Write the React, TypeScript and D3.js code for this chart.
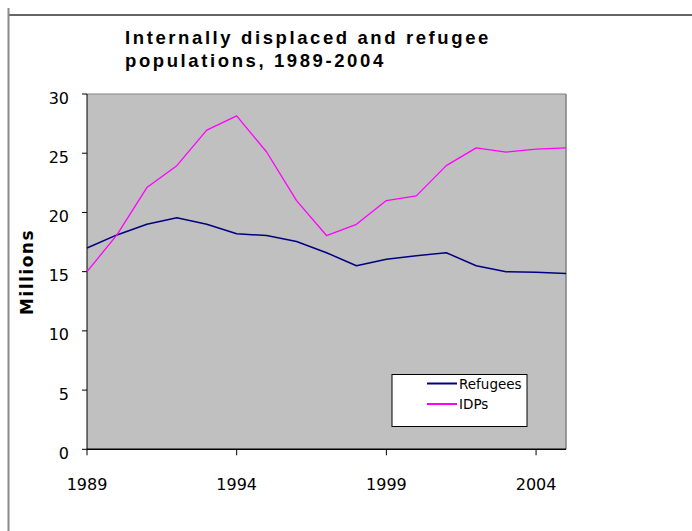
import * as d3 from "d3";

const WIDTH = 692;
const HEIGHT = 531;
const PLOT = { left: 87, right: 566, top: 94, bottom: 449.3 };

const years = [
  1989, 1990, 1991, 1992, 1993, 1994, 1995, 1996, 1997, 1998, 1999, 2000, 2001,
  2002, 2003, 2004, 2005,
];
const refugees = [
  17.0, 18.1, 19.0, 19.55, 19.0, 18.2, 18.05, 17.55, 16.6, 15.5, 16.05, 16.35,
  16.6, 15.5, 15.0, 14.95, 14.85,
];
const idps = [
  15.0, 18.1, 22.1, 23.95, 26.95, 28.15, 25.1, 21.0, 18.05, 19.0, 21.0, 21.4,
  23.95, 25.45, 25.1, 25.35, 25.45,
];
const yTicks = [0, 5, 10, 15, 20, 25, 30];
const xTickYears = [1989, 1994, 1999, 2004];

const series = [
  { name: "Refugees", values: refugees, color: "#000080", width: 1.5 },
  { name: "IDPs", values: idps, color: "#ff00ff", width: 1.3 },
];

export default function App() {
  const xScale = d3
    .scalePoint<number>()
    .domain(years)
    .range([PLOT.left, PLOT.right]);
  const yScale = d3
    .scaleLinear()
    .domain([0, 30])
    .range([PLOT.bottom, PLOT.top]);

  const lineFor = (values: number[]) =>
    d3
      .line<number>()
      .x((_, i) => xScale(years[i]) ?? 0)
      .y((v) => yScale(v))(values) ?? "";

  const tickFont = "'DejaVu Sans', Verdana, sans-serif";

  return (
    <div style={{ position: "absolute", left: 0, top: 0 }}>
      <svg width={WIDTH} height={HEIGHT} style={{ display: "block" }}>
        <rect x={0} y={0} width={WIDTH} height={HEIGHT} fill="#ffffff" />
        {/* outer frame */}
        <line x1={8} x2={WIDTH} y1={15} y2={15} stroke="#333333" strokeWidth={1.3} />
        <line x1={8.5} x2={8.5} y1={8} y2={HEIGHT} stroke="#8a8a8a" strokeWidth={2} />

        {/* title */}
        <text
          x={125}
          y={44}
          fontFamily="'Liberation Sans', Arial, sans-serif"
          fontWeight="bold"
          fontSize={18.5}
          letterSpacing={2.6}
          fill="#000"
        >
          <tspan x={125}>Internally displaced and refugee</tspan>
          <tspan x={125} dy={22.5}>
            populations, 1989-2004
          </tspan>
        </text>

        {/* plot area */}
        <rect
          x={PLOT.left}
          y={PLOT.top}
          width={PLOT.right - PLOT.left}
          height={PLOT.bottom - PLOT.top}
          fill="#c0c0c0"
        />
        <line x1={PLOT.left} x2={PLOT.right} y1={PLOT.top} y2={PLOT.top} stroke="#808080" strokeWidth={1} />
        <line x1={PLOT.right} x2={PLOT.right} y1={PLOT.top} y2={PLOT.bottom} stroke="#808080" strokeWidth={1.5} />

        {/* y axis */}
        <line x1={PLOT.left} x2={PLOT.left} y1={PLOT.top} y2={PLOT.bottom} stroke="#000" strokeWidth={1} />
        {yTicks.map((t) => (
          <g key={t}>
            <line x1={PLOT.left - 5} x2={PLOT.left} y1={yScale(t)} y2={yScale(t)} stroke="#000" />
            <text
              x={69}
              y={yScale(t) + 4}
              textAnchor="end"
              dominantBaseline="central"
              fontFamily={tickFont}
              fontSize={16}
              fill="#000"
            >
              {t}
            </text>
          </g>
        ))}
        <text
          transform={`translate(33, 272) rotate(-90)`}
          textAnchor="middle"
          fontFamily={tickFont}
          fontWeight="bold"
          fontSize={17}
          letterSpacing={1.5}
          fill="#000"
        >
          Millions
        </text>

        {/* x axis */}
        <line x1={PLOT.left} x2={PLOT.right} y1={PLOT.bottom} y2={PLOT.bottom} stroke="#000" strokeWidth={1.5} />
        {xTickYears.map((yr) => (
          <g key={yr}>
            <line
              x1={xScale(yr)}
              x2={xScale(yr)}
              y1={PLOT.bottom}
              y2={PLOT.bottom + 6}
              stroke="#000"
            />
            <text
              x={xScale(yr)}
              y={490}
              textAnchor="middle"
              fontFamily={tickFont}
              fontSize={16}
              fill="#000"
            >
              {yr}
            </text>
          </g>
        ))}

        {/* series */}
        {series.map((s) => (
          <path
            key={s.name}
            d={lineFor(s.values)}
            fill="none"
            stroke={s.color}
            strokeWidth={s.width}
            strokeLinejoin="round"
          />
        ))}

        {/* legend */}
        <rect x={392} y={374.5} width={135} height={52} fill="#ffffff" stroke="#000" strokeWidth={1} />
        {series.map((s, i) => (
          <g key={s.name}>
            <line
              x1={427}
              x2={457}
              y1={383.5 + i * 20.5}
              y2={383.5 + i * 20.5}
              stroke={s.color}
              strokeWidth={2}
            />
            <text
              x={459}
              y={383.5 + i * 20.5}
              dominantBaseline="central"
              fontFamily={tickFont}
              fontSize={13.5}
              fill="#000"
            >
              {s.name}
            </text>
          </g>
        ))}
      </svg>
    </div>
  );
}
